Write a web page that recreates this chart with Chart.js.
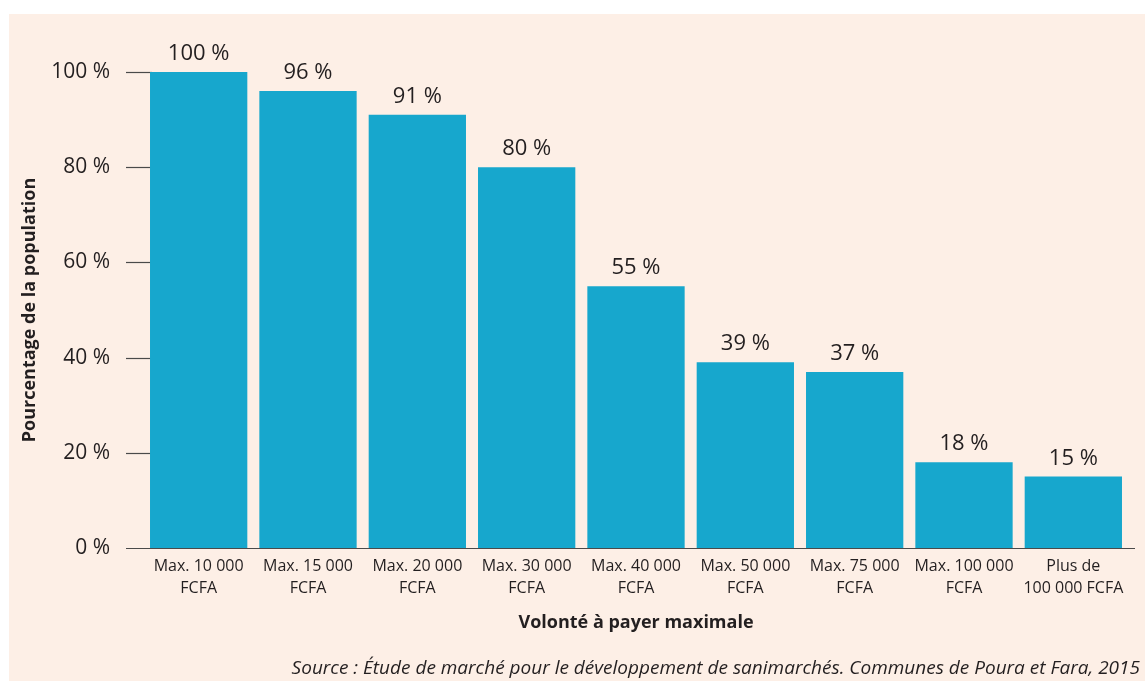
<!DOCTYPE html>
<html>
<head>
<meta charset="utf-8">
<script src="https://cdn.jsdelivr.net/npm/chart.js@4/dist/chart.umd.min.js"></script>
<style>
  html, body { margin: 0; padding: 0; background: #ffffff; }
  canvas { display: block; }
</style>
</head>
<body>
<canvas id="wtpChart" width="1145" height="681"></canvas>
<script>
// Volonté à payer maximale (Poura et Fara, 2015)
const categories = [
  ['Max. 10 000', 'FCFA'],
  ['Max. 15 000', 'FCFA'],
  ['Max. 20 000', 'FCFA'],
  ['Max. 30 000', 'FCFA'],
  ['Max. 40 000', 'FCFA'],
  ['Max. 50 000', 'FCFA'],
  ['Max. 75 000', 'FCFA'],
  ['Max. 100 000', 'FCFA'],
  ['Plus de', '100 000 FCFA']
];
const population = [100, 96, 91, 80, 55, 39, 37, 18, 15];
const yTicks = [0, 20, 40, 60, 80, 100];

const FONT = '"Open Sans", Lato, sans-serif';
const TEXT = '#231f20';
const BG = '#fdefe6';
const BAR = '#17a7cd';

const sourceText = 'Source : Étude de marché pour le développement de sanimarchés. Communes de Poura et Fara, 2015';

// fond pêche + axe + traits de graduation + étiquettes
const decor = {
  id: 'decor',
  beforeDraw(chart) {
    const c = chart.ctx;
    c.save();
    c.fillStyle = BG;
    c.fillRect(9, 14, chart.width - 9, chart.height - 14);
    c.restore();
  },
  beforeDatasetsDraw(chart) {
    const c = chart.ctx;
    const y = chart.scales.y;
    const area = chart.chartArea;
    c.save();
    c.strokeStyle = '#4a4a4a';
    c.lineWidth = 1.2;
    yTicks.forEach(v => {
      const py = Math.round(y.getPixelForValue(v)) + 0.5;
      c.beginPath();
      c.moveTo(126, py);
      c.lineTo(v === 0 ? 1135 : area.left + 8, py);
      c.stroke();
    });
    c.restore();
  },
  afterDatasetsDraw(chart) {
    const c = chart.ctx;
    const meta = chart.getDatasetMeta(0);
    c.save();
    c.fillStyle = TEXT;
    c.font = '22px ' + FONT;
    c.textAlign = 'center';
    c.textBaseline = 'alphabetic';
    meta.data.forEach((bar, i) => {
      c.fillText(population[i] + ' %', bar.x, bar.y - 12);
    });
    c.font = 'italic 19px ' + FONT;
    c.textAlign = 'right';
    c.fillText(sourceText, 1140, 674);
    c.restore();
  }
};

new Chart(document.getElementById('wtpChart').getContext('2d'), {
  type: 'bar',
  data: {
    labels: categories,
    datasets: [{
      data: population,
      backgroundColor: BAR,
      barPercentage: 0.89,
      categoryPercentage: 1.0
    }]
  },
  options: {
    responsive: false,
    animation: false,
    layout: { padding: { top: 72, right: 17, bottom: 47, left: 19 } },
    plugins: {
      legend: { display: false },
      tooltip: { enabled: false }
    },
    scales: {
      x: {
        afterFit(scale) { scale.height = 86; },
        grid: { display: false, drawTicks: false },
        border: { display: false },
        ticks: {
          color: TEXT,
          font: { family: FONT, size: 16, lineHeight: 1.38 },
          padding: 7,
          maxRotation: 0,
          autoSkip: false
        },
        title: {
          display: true,
          text: 'Volonté à payer maximale',
          color: TEXT,
          font: { family: FONT, size: 18, weight: 'bold' },
          padding: { top: 0, bottom: 0 }
        }
      },
      y: {
        min: 0,
        max: 100,
        afterBuildTicks(scale) {
          scale.ticks = yTicks.map(v => ({ value: v }));
        },
        afterFit(scale) { scale.width = 125; },
        grid: { display: false, drawTicks: false },
        border: { display: false },
        ticks: {
          color: TEXT,
          font: { family: FONT, size: 21 },
          padding: 34,
          callback: v => v + ' %'
        },
        title: {
          display: true,
          text: 'Pourcentage de la population',
          color: TEXT,
          font: { family: FONT, size: 18, weight: 'bold' },
          padding: { top: 0, bottom: 0 }
        }
      }
    }
  },
  plugins: [decor]
});
</script>
</body>
</html>
